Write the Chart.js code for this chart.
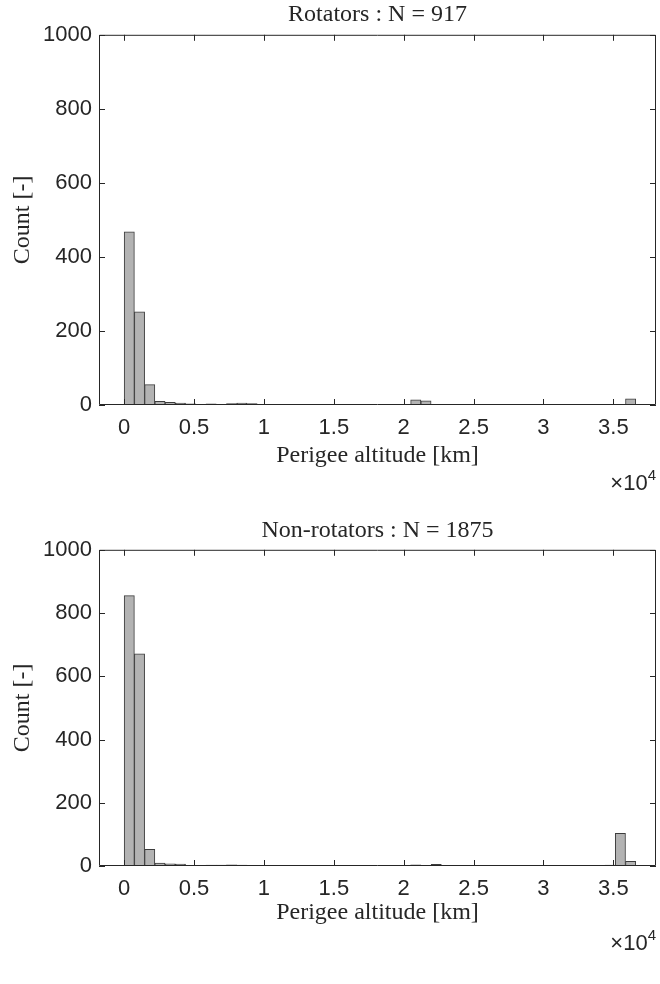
<!DOCTYPE html>
<html>
<head>
<meta charset="utf-8">
<title>Perigee altitude histograms</title>
<script src="https://cdn.jsdelivr.net/npm/chart.js@4/dist/chart.umd.min.js"></script>
<style>
  html, body { margin: 0; padding: 0; background: #fff; }
  .panel { position: relative; width: 660px; height: 492px; }
</style>
</head>
<body>
<div class="panel"><canvas id="rotators"></canvas></div>
<div class="panel"><canvas id="nonRotators"></canvas></div>

<script>
// histogram bins (km)
const binStart = 0;
const binWidth = 732;

const rotatorCounts = [
  468, 252, 55, 10, 7, 5, 3, 2, 3, 2,
  4, 5, 4, 0, 0, 1, 1, 1, 1, 1,
  0, 1, 1, 1, 0, 1, 1, 2, 14, 11,
  1, 0, 0, 1, 1, 1, 1, 1, 1, 1,
  1, 1, 1, 1, 0, 0, 1, 2, 0, 17
];

const nonRotatorCounts = [
  855, 671, 53, 9, 7, 6, 2, 1, 3, 3,
  4, 3, 1, 0, 0, 0, 0, 1, 1, 2,
  0, 0, 0, 1, 1, 2, 0, 1, 4, 2,
  5, 2, 1, 0, 0, 1, 2, 0, 0, 0,
  0, 0, 0, 0, 1, 2, 1, 3, 103, 15
];

const xTicks = [0, 5000, 10000, 15000, 20000, 25000, 30000, 35000];
const yTicks = [0, 200, 400, 600, 800, 1000];

const textColor = '#262626';
const sansFont = "'Liberation Sans', Arial, Helvetica, sans-serif";
const serifFont = "'Liberation Serif', 'DejaVu Serif', serif";

// box around the axes with inward ticks, MATLAB style
const boxPlugin = {
  id: 'matlabBox',
  afterDraw(chart) {
    const {ctx, chartArea: a, scales: {x, y}} = chart;
    ctx.save();
    ctx.strokeStyle = textColor;
    ctx.lineWidth = 1;
    ctx.beginPath();
    ctx.rect(a.left + 0.5, a.top + 0.5, a.right - a.left - 1, a.bottom - a.top - 1);
    x.ticks.forEach(t => {
      const px = Math.round(x.getPixelForValue(t.value)) + 0.5;
      ctx.moveTo(px, a.bottom); ctx.lineTo(px, a.bottom - 6);
      ctx.moveTo(px, a.top); ctx.lineTo(px, a.top + 6);
    });
    y.ticks.forEach(t => {
      const py = Math.round(y.getPixelForValue(t.value)) + 0.5;
      ctx.moveTo(a.left, py); ctx.lineTo(a.left + 6, py);
      ctx.moveTo(a.right, py); ctx.lineTo(a.right - 6, py);
    });
    ctx.stroke();

    // x10^4 exponent label
    const ex = chart.options.plugins.matlabBox.exponentY;
    ctx.fillStyle = textColor;
    ctx.textBaseline = 'alphabetic';
    ctx.textAlign = 'right';
    ctx.font = '15px ' + sansFont;
    ctx.fillText('4', a.right, ex - 10);
    const w4 = ctx.measureText('4').width;
    ctx.font = '22px ' + sansFont;
    ctx.fillText('\u00d710', a.right - w4, ex);
    ctx.restore();
  }
};

function makeHistogram(id, title, counts, lay) {
  const points = counts.map((c, i) => ({ x: binStart + (i + 0.5) * binWidth, y: c }));
  return new Chart(document.getElementById(id), {
    type: 'bar',
    data: {
      datasets: [{
        data: points,
        backgroundColor: '#b3b3b3',
        borderColor: '#3c3c3c',
        borderWidth: 1,
        borderSkipped: false,
        barPercentage: 1,
        categoryPercentage: 1
      }]
    },
    options: {
      responsive: true,
      maintainAspectRatio: false,
      animation: false,
      layout: { padding: { left: 0, right: 4, top: 0, bottom: 0 } },
      plugins: {
        legend: { display: false },
        tooltip: { enabled: false },
        title: {
          display: true,
          text: title,
          fullSize: false,
          color: textColor,
          font: { family: serifFont, size: 24, weight: 'normal' },
          padding: { top: lay.titleTop, bottom: lay.titleBottom }
        },
        matlabBox: { exponentY: lay.exponentY }
      },
      scales: {
        x: {
          type: 'linear',
          offset: false,
          min: -1800,
          max: 38050,
          afterBuildTicks: s => { s.ticks = xTicks.map(v => ({ value: v })); },
          afterFit: s => { s.height = lay.xHeight; },
          grid: { display: false, drawTicks: false, offset: false },
          border: { display: false },
          ticks: {
            color: textColor,
            padding: 10,
            maxRotation: 0,
            font: { family: sansFont, size: 22 },
            callback: v => String(v / 10000)
          },
          title: {
            display: true,
            text: 'Perigee altitude [km]',
            color: textColor,
            font: { family: serifFont, size: 24 },
            padding: { top: 0, bottom: lay.xTitleBottom }
          }
        },
        y: {
          min: 0,
          max: 1000,
          afterBuildTicks: s => { s.ticks = yTicks.map(v => ({ value: v })); },
          afterFit: s => { s.width = 99; },
          grid: { display: false, drawTicks: false },
          border: { display: false },
          ticks: {
            color: textColor,
            padding: 7,
            font: { family: sansFont, size: 22 },
            callback: v => String(v)
          },
          title: {
            display: true,
            text: 'Count [-]',
            color: textColor,
            font: { family: serifFont, size: 24 },
            padding: { top: 8, bottom: 0 }
          }
        }
      }
    },
    plugins: [boxPlugin]
  });
}

makeHistogram('rotators', 'Rotators : N = 917', rotatorCounts,
  { titleTop: 0, titleBottom: 6, xHeight: 87, xTitleBottom: 22, exponentY: 490 });
makeHistogram('nonRotators', 'Non-rotators : N = 1875', nonRotatorCounts,
  { titleTop: 24, titleBottom: 5, xHeight: 118, xTitleBottom: 57, exponentY: 458 });
</script>
</body>
</html>
